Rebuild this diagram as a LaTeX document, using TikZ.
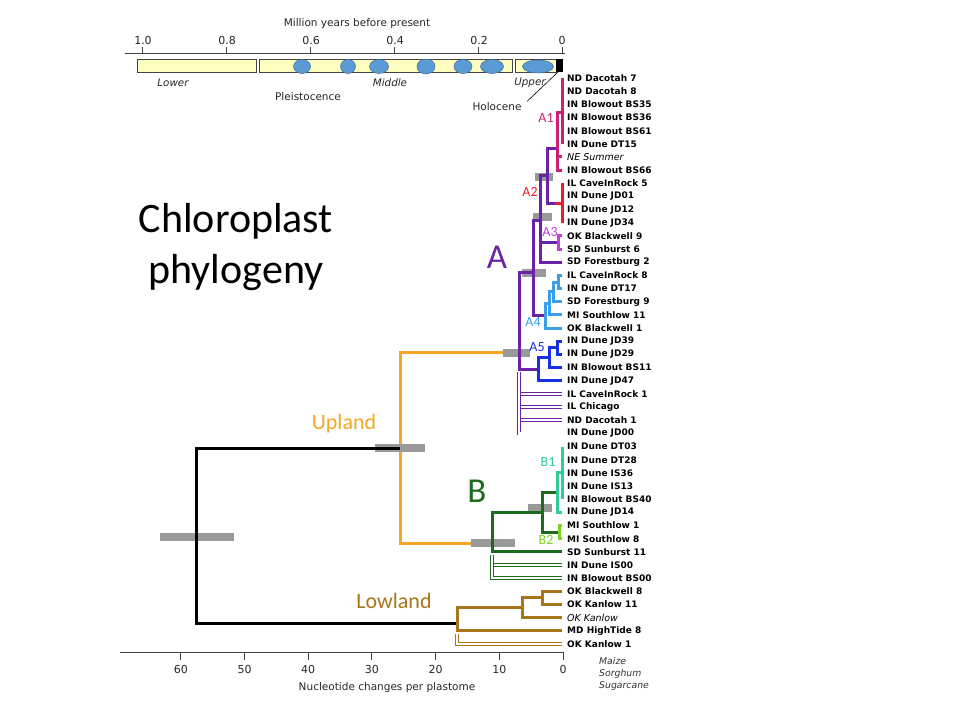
\documentclass[tikz,border=0pt]{standalone}
\usepackage{fontspec}
\setmainfont{DejaVu Sans}
\newfontfamily\calibri{Carlito}
\usetikzlibrary{positioning}

\definecolor{upl}{HTML}{F5A623}
\definecolor{low}{HTML}{A8761A}
\definecolor{cladeA}{HTML}{6A22A8}
\definecolor{cladeAone}{HTML}{CC1F78}
\definecolor{cladeAtwo}{HTML}{EE1C2E}
\definecolor{cladeAthree}{HTML}{C23FD9}
\definecolor{cladeAfour}{HTML}{3A9FEA}
\definecolor{cladeAfive}{HTML}{1530E6}
\definecolor{cladeB}{HTML}{1E6B1E}
\definecolor{cladeBone}{HTML}{2ECC9B}
\definecolor{cladeBtwo}{HTML}{7ED321}
\definecolor{epoch}{HTML}{FFFFC2}
\definecolor{bubble}{HTML}{5B9BD5}
\definecolor{axisgray}{HTML}{444444}

\newcommand{\leaffont}{\fontsize{9}{10}\selectfont\bfseries}
\newcommand{\leafit}{\fontsize{9.5}{10}\selectfont\itshape}
\newcommand{\axfont}{\fontsize{10.5}{12}\selectfont}

\begin{document}
\begin{tikzpicture}[x=1pt,y=-1pt,node distance=13.163pt,
  br/.style={line width=3pt,to path={|- (\tikztotarget)}},
  hol/.style={line width=0.8pt,to path={|- (\tikztotarget)},
    every edge/.append style={double=white,double distance=2.2pt}},
  tip/.style={anchor=west,inner xsep=5pt,inner ysep=1pt,font=\leaffont},
  row/.style={below=of #1.west,anchor=west},
  bar/.style={fill=black!40,minimum height=8pt,inner sep=0pt},
  clade/.style={font=\calibri\fontsize{14}{14}\selectfont},
  big/.style={font=\calibri\fontsize{35}{35}\selectfont},
  group/.style={font=\calibri\fontsize{22}{22}\selectfont},
  ax/.style={font=\axfont,text=black!85},
  num/.style={font=\fontsize{11}{12}\selectfont,text=black!85}]

  \useasboundingbox (0,0) rectangle (960,720);

  \node[font=\calibri\fontsize{42}{51}\selectfont,align=center] (title) at (236,247) {Chloroplast\\phylogeny};

  % time scale
  \node[ax] (myr) at (357,24) {Million years before present};
  \draw[axisgray,line width=1pt] (125,53) -- (565,53);
  \draw[axisgray,line width=1pt] (142,47) -- (142,53) (226,47) -- (226,53) (310,47) -- (310,53)
    (394,47) -- (394,53) (478,47) -- (478,53) (562,47) -- (562,53);
  \node[num] (m10) at (143,40) {1.0};
  \node[num] (m08) at (227,40) {0.8};
  \node[num] (m06) at (311,40) {0.6};
  \node[num] (m04) at (395,40) {0.4};
  \node[num] (m02) at (479,40) {0.2};
  \node[num] (m00) at (562,40) {0};

  \draw[axisgray,fill=epoch] (137,59) rectangle (256,72);
  \draw[axisgray,fill=epoch] (259,59) rectangle (512,72);
  \draw[axisgray,fill=epoch] (515,59) rectangle (556,72);
  \fill[black] (556,59) rectangle (563,72);
  \filldraw[fill=bubble,draw=bubble!70!black,line width=0.5pt]
    (302,66.5) ellipse [x radius=8.5,y radius=7]
    (348,66.5) ellipse [x radius=7.5,y radius=7]
    (379,66.5) ellipse [x radius=9.5,y radius=7]
    (426,66.5) ellipse [x radius=9,y radius=7.5]
    (463,66.5) ellipse [x radius=9,y radius=7]
    (492,66.5) ellipse [x radius=11.5,y radius=7]
    (538,66.5) ellipse [x radius=15.5,y radius=6.5];

  \node[ax,font=\fontsize{10.3}{12}\selectfont\itshape] (lower) at (173,83) {Lower};
  \node[ax,font=\fontsize{10.3}{12}\selectfont\itshape] (middle) at (390,83) {Middle};
  \node[ax,font=\fontsize{10.3}{12}\selectfont\itshape] (upper) at (530,83) {Upper};
  \node[ax] (pleist) at (308,97) {Pleistocence};
  \node[ax] (holtext) at (497,107) {Holocene};
  \coordinate (holo) at (558,72);
  \draw[black,line width=0.6pt] ([xshift=2pt,yshift=-2pt]holtext.north east) -- (holo);

  % tips
  \node[tip] (t1) at (562,78) {ND Dacotah 7};
  \node[tip,row=t1] (t2) {ND Dacotah 8};
  \node[tip,row=t2] (t3) {IN Blowout BS35};
  \node[tip,row=t3] (t4) {IN Blowout BS36};
  \node[tip,row=t4] (t5) {IN Blowout BS61};
  \node[tip,row=t5] (t6) {IN Dune DT15};
  \node[tip,row=t6,font=\leafit] (t7) {NE Summer};
  \node[tip,row=t7] (t8) {IN Blowout BS66};
  \node[tip,row=t8] (t9) {IL CaveInRock 5};
  \node[tip,row=t9] (t10) {IN Dune JD01};
  \node[tip,row=t10] (t11) {IN Dune JD12};
  \node[tip,row=t11] (t12) {IN Dune JD34};
  \node[tip,row=t12] (t13) {OK Blackwell 9};
  \node[tip,row=t13] (t14) {SD Sunburst 6};
  \node[tip,row=t14] (t15) {SD Forestburg 2};
  \node[tip,row=t15] (t16) {IL CaveInRock 8};
  \node[tip,row=t16] (t17) {IN Dune DT17};
  \node[tip,row=t17] (t18) {SD Forestburg 9};
  \node[tip,row=t18] (t19) {MI Southlow 11};
  \node[tip,row=t19] (t20) {OK Blackwell 1};
  \node[tip,row=t20] (t21) {IN Dune JD39};
  \node[tip,row=t21] (t22) {IN Dune JD29};
  \node[tip,row=t22] (t23) {IN Blowout BS11};
  \node[tip,row=t23] (t24) {IN Dune JD47};
  \node[tip,row=t24] (t25) {IL CaveInRock 1};
  \node[tip,row=t25] (t26) {IL Chicago};
  \node[tip,row=t26] (t27) {ND Dacotah 1};
  \node[tip,row=t27] (t28) {IN Dune JD00};
  \node[tip,row=t28] (t29) {IN Dune DT03};
  \node[tip,row=t29] (t30) {IN Dune DT28};
  \node[tip,row=t30] (t31) {IN Dune IS36};
  \node[tip,row=t31] (t32) {IN Dune IS13};
  \node[tip,row=t32] (t33) {IN Blowout BS40};
  \node[tip,row=t33] (t34) {IN Dune JD14};
  \node[tip,row=t34] (t35) {MI Southlow 1};
  \node[tip,row=t35] (t36) {MI Southlow 8};
  \node[tip,row=t36] (t37) {SD Sunburst 11};
  \node[tip,row=t37] (t38) {IN Dune IS00};
  \node[tip,row=t38] (t39) {IN Blowout BS00};
  \node[tip,row=t39] (t40) {OK Blackwell 8};
  \node[tip,row=t40] (t41) {OK Kanlow 11};
  \node[tip,row=t41,font=\leafit] (t42) {OK Kanlow};
  \node[tip,row=t42] (t43) {MD HighTide 8};
  \node[tip,row=t43] (t44) {OK Kanlow 1};

  % inner nodes
  \coordinate (nRoot) at (196,537);
  \coordinate (nUpl) at (400,448);
  \coordinate (nLow) at (457,623);
  \coordinate (nA) at (519,352);
  \coordinate (hA) at (519,372);
  \coordinate (nUp) at (533,272);
  \coordinate (nX) at (540,220);
  \coordinate (nA12) at (547,175.5);
  \coordinate (nA1) at (557,148);
  \coordinate (jA1) at (562,112);
  \coordinate (nA2) at (555,203);
  \coordinate (jA2) at (562,203);
  \coordinate (nA3) at (558,242.6);
  \coordinate (nA4) at (545,315.8);
  \coordinate (a4b) at (549,303.4);
  \coordinate (a4c) at (553,291.9);
  \coordinate (a4d) at (558,282);
  \coordinate (nA5) at (538,369.2);
  \coordinate (a5b) at (549,357.7);
  \coordinate (a5c) at (557,347.9);
  \coordinate (nB) at (492,543);
  \coordinate (hB) at (492,554.5);
  \coordinate (nBs) at (542,512.4);
  \coordinate (nB1) at (557,492.6);
  \coordinate (jB1) at (562,472.9);
  \coordinate (nB2) at (559,532.1);
  \coordinate (lw2) at (522,607.8);
  \coordinate (lw3) at (542,597.9);
  \coordinate (hL) at (457,633.5);

  \path[br,upl] (nUpl) edge (nA) edge (nB);

  % uncertainty bars
  \node[bar,minimum width=74pt] (gRoot) at (197,537) {};
  \node[bar,minimum width=50pt] (gUpl) at (400,448) {};
  \node[bar,minimum width=27pt] (gA) at (516.5,353) {};
  \node[bar,minimum width=24pt] (gUp) at (534,273) {};
  \node[bar,minimum width=19pt] (gX) at (542.5,217) {};
  \node[bar,minimum width=18pt] (gA12) at (544,177) {};
  \node[bar,minimum width=44pt] (gB) at (493,542.5) {};
  \node[bar,minimum width=24pt] (gBs) at (540,508) {};

  \path[br,black] (nRoot) edge (nUpl) edge (nLow);

  \path[hol,cladeA] (hA) edge (t25) edge (t26) edge (t27) edge (t28);
  \path[br,cladeA] (nA) edge (nUp) edge (nA5)
    (nUp) edge (nX) edge (nA4)
    (nX) edge (nA12) edge (nA3) edge (t15)
    (nA12) edge (nA1) edge (nA2);

  \path[br,cladeAone] (nA1) edge (jA1) edge (t7) edge (t8);
  \draw[cladeAone,line width=3pt] (t1.west) -- (t6.west);
  \path[br,cladeAtwo] (nA2) edge (jA2);
  \draw[cladeAtwo,line width=3pt] (t9.west) -- (t12.west);
  \path[br,cladeAthree] (nA3) edge (t13) edge (t14);
  \path[br,cladeAfour] (nA4) edge (a4b) edge (t20)
    (a4b) edge (a4c) edge (t19)
    (a4c) edge (a4d) edge (t18)
    (a4d) edge (t16) edge (t17);
  \path[br,cladeAfive] (nA5) edge (a5b) edge (t24)
    (a5b) edge (a5c) edge (t23)
    (a5c) edge (t21) edge (t22);

  \path[hol,cladeB] (hB) edge (t38) edge (t39);
  \path[br,cladeB] (nB) edge (nBs) edge (t37)
    (nBs) edge (nB1) edge (nB2);
  \path[br,cladeBone] (nB1) edge (jB1) edge (t34);
  \draw[cladeBone,line width=3pt] (t29.west) -- (t33.west);
  \path[br,cladeBtwo] (nB2) edge (t35) edge (t36);

  \path[hol,low] (hL) edge (t44);
  \path[br,low] (nLow) edge (lw2) edge (t43)
    (lw2) edge (lw3) edge (t42)
    (lw3) edge (t40) edge (t41);

  % clade labels
  \node[clade,text=cladeAone] (labA1) at (546,118) {A1};
  \node[clade,text=cladeAtwo] (labA2) at (530,192) {A2};
  \node[clade,text=cladeAthree] (labA3) at (550,232) {A3};
  \node[clade,text=cladeAfour] (labA4) at (533,322) {A4};
  \node[clade,text=cladeAfive] (labA5) at (537,347) {A5};
  \node[clade,text=cladeBone] (labB1) at (548,462) {B1};
  \node[clade,text=cladeBtwo] (labB2) at (546,540) {B2};
  \node[big,text=cladeA] (labA) at (497,257) {A};
  \node[big,text=cladeB] (labB) at (477,491) {B};
  \node[group,text=upl] (labUpl) at (344,424) {Upland};
  \node[group,text=low] (labLow) at (394,601) {Lowland};

  % substitution scale
  \draw[axisgray,line width=1pt] (120,652) -- (563,652);
  \draw[axisgray,line width=1pt] (563,652) -- (563,660) (499.3,652) -- (499.3,660) (435.6,652) -- (435.6,660)
    (371.9,652) -- (371.9,660) (308.2,652) -- (308.2,660) (244.5,652) -- (244.5,660) (180.8,652) -- (180.8,660);
  \node[num] (s0) at (563,669) {0};
  \node[num] (s10) at (499.3,669) {10};
  \node[num] (s20) at (435.6,669) {20};
  \node[num] (s30) at (371.9,669) {30};
  \node[num] (s40) at (308.2,669) {40};
  \node[num] (s50) at (244.5,669) {50};
  \node[num] (s60) at (180.8,669) {60};
  \node[ax] (nuc) at (387,688) {Nucleotide changes per plastome};
  \node[anchor=north west,align=left,inner sep=0pt,text=black!80,font=\fontsize{9.3}{12.3}\selectfont\itshape] (outg) at (599,657) {Maize\\Sorghum\\Sugarcane};

\end{tikzpicture}
\end{document}
